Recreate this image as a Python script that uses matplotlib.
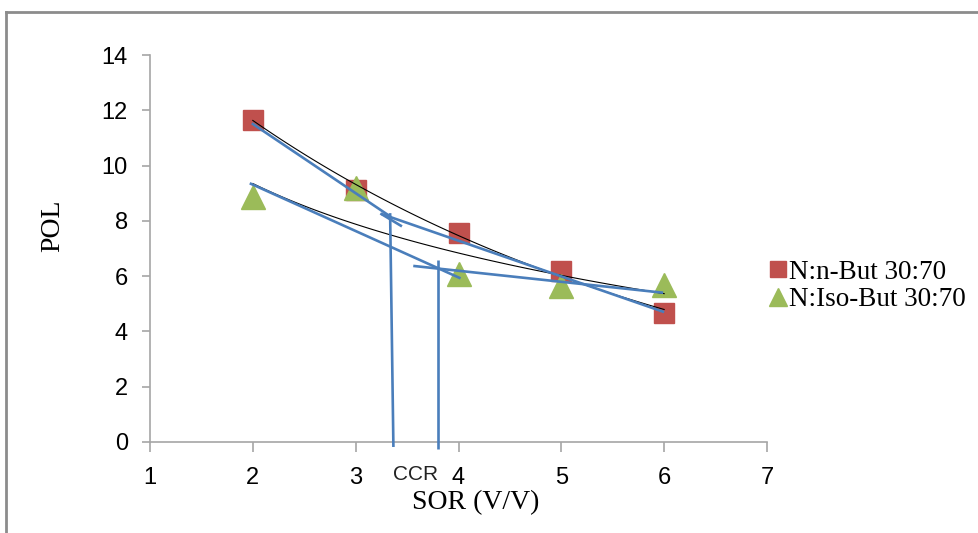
import numpy as np
import matplotlib.pyplot as plt
from matplotlib.lines import Line2D

# data
sor = [2, 3, 4, 5, 6]
pol_nbut = [11.65, 9.12, 7.56, 6.19, 4.67]
pol_isobut = [8.86, 9.2, 6.08, 5.64, 5.68]
labels = ["N:n-But 30:70", "N:Iso-But 30:70"]

# hand drawn blue construction lines (x pairs, y pairs)
blue_x = [[1.99, 3.34], [3.25, 6.0], [3.24, 3.45], [3.335, 3.367],
          [1.97, 4.02], [3.56, 5.99], [3.80, 3.80]]
blue_y = [[11.53, 8.15], [8.25, 4.70], [8.27, 7.80], [8.28, -0.18],
          [9.36, 5.92], [6.37, 5.40], [6.58, -0.25]]

red = "#C0504D"
green = "#9BBB59"
blue = "#4A7EBB"
grey = "#A6A6A6"

fig = plt.figure(figsize=(9.79, 5.33), dpi=100)
ax = fig.add_axes([150/979, 1-442/533, 617/979, 387/533])

xs = np.linspace(2, 6, 100)
# exponential trendline for n-But
k, c = np.polyfit(sor, np.log(pol_nbut), 1)
ax.plot(xs, np.exp(c + k*xs), color="black", lw=0.8, zorder=3)
# log trendline for Iso-But
a, b = np.polyfit(np.log(sor), pol_isobut, 1)
ax.plot(xs, a*np.log(xs) + b, color="black", lw=0.8, zorder=3)

ax.plot(sor, pol_nbut, "s", color=red, ms=15, zorder=2)
ax.plot(sor, pol_isobut, "^", color=green, ms=17, zorder=2)

for bx, by in zip(blue_x, blue_y):
    ax.plot(bx, by, color=blue, lw=1.9, solid_capstyle="butt", zorder=4, clip_on=False)

ax.text(3.58, -1.19, "CCR", ha="center", va="center", fontsize=15,
        family="Liberation Sans", color="#222222")

ax.set_xlim(1, 7)
ax.set_ylim(0, 14)
ax.set_xticks(range(1, 8))
ax.set_yticks(range(0, 15, 2))
for s in ("top", "right"):
    ax.spines[s].set_visible(False)
for s in ("left", "bottom"):
    ax.spines[s].set_color(grey)
    ax.spines[s].set_linewidth(1.2)
ax.tick_params(axis="x", length=7, width=1.2, color=grey, pad=11, labelsize=17)
ax.tick_params(axis="y", length=6, width=1.2, color=grey, pad=10, labelsize=17)
for t in ax.get_xticklabels() + ax.get_yticklabels():
    t.set_family("Liberation Sans")

ax.set_ylabel("POL", family="Liberation Serif", fontsize=20)
ax.yaxis.set_label_coords(-0.138, 0.558)
ax.set_xlabel("SOR (V/V)", family="Liberation Serif", fontsize=20)
ax.xaxis.set_label_coords(0.528, -0.125)

handles = [Line2D([], [], ls="none", marker="s", color=red, ms=12),
           Line2D([], [], ls="none", marker="^", color=green, ms=13)]
fig.legend(handles, labels, loc="center left", bbox_to_anchor=(769/979, 1-286/533),
           frameon=False, borderpad=0, borderaxespad=0, handlelength=0.65,
           handletextpad=0.1, labelspacing=0.1,
           prop={"family": "Liberation Serif", "size": 19.5})

# outer frame of the original picture
fig.add_artist(Line2D([6/979, 1], [1-12/533, 1-12/533], color="#8C8C8C", lw=2))
fig.add_artist(Line2D([6/979, 6/979], [0, 1-12/533], color="#8C8C8C", lw=2))

fig.savefig("out.png", dpi=100)
